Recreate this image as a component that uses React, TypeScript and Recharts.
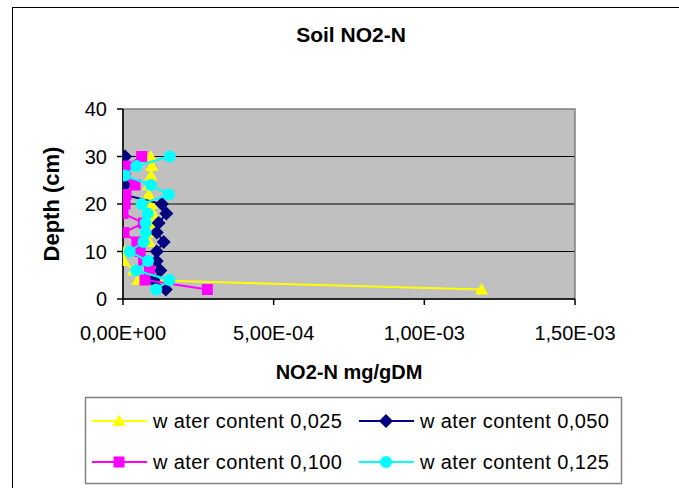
import {
  ScatterChart,
  Scatter,
  XAxis,
  YAxis,
  CartesianGrid,
  ReferenceArea,
} from 'recharts'

// depth (cm) of every sample, shared by all series
const depths = [2, 4, 6, 8, 10, 12, 14, 16, 18, 20, 22, 24, 26, 28, 30]

// NO2-N mg/gDM, one value per depth
const wc025 = [1.19e-3, 5.0e-5, 3.5e-5, 3e-6, 5e-6, 8.7e-5, 9.0e-5, 9.5e-5, 1.0e-4, 9.5e-5, 8.5e-5, 8.5e-5, 9.3e-5, 9.6e-5, 9.2e-5]
const wc050 = [1.42e-4, 1.01e-4, 1.24e-4, 1.12e-4, 1.12e-4, 1.35e-4, 1.12e-4, 1.18e-4, 1.44e-4, 1.29e-4, 0, 7e-6, 0, 0, 7e-6]
const wc100 = [2.8e-4, 7.3e-5, 8.8e-5, 6.8e-5, 5.7e-5, 4.6e-5, 3e-6, 6.8e-5, 0, 7e-6, 1e-5, 4.0e-5, 7e-6, 7e-6, 6.2e-5]
const wc125 = [1.1e-4, 1.54e-4, 4.4e-5, 8.3e-5, 2.2e-5, 6.8e-5, 7.5e-5, 7.5e-5, 8.2e-5, 6.2e-5, 1.52e-4, 9.2e-5, 5e-6, 4.5e-5, 1.55e-4]

const xTicks = [0, 5e-4, 1e-3, 1.5e-3]
const yTicks = [0, 10, 20, 30, 40]

const seriesNames = ['w ater content 0,025', 'w ater content 0,050', 'w ater content 0,100', 'w ater content 0,125']
const seriesColors = ['#FFFF00', '#000080', '#FF00FF', '#00FFFF']
const seriesMarkers = ['triangle', 'diamond', 'square', 'circle']
const seriesValues = [wc025, wc050, wc100, wc125]

const FONT = '"Liberation Sans", Arial, sans-serif'

const toPoints = (vals: number[]) => vals.map((v, i) => ({ x: v, depth: depths[i] }))

const formatSci = (v: number) => {
  if (v === 0) return '0,00E+00'
  const e = Math.floor(Math.log10(Math.abs(v)) + 1e-9)
  const m = (v / Math.pow(10, e)).toFixed(2).replace('.', ',')
  const sign = e < 0 ? '-' : '+'
  return `${m}E${sign}${String(Math.abs(e)).padStart(2, '0')}`
}

function Marker({ kind, cx, cy, color }: { kind: string; cx: number; cy: number; color: string }) {
  if (kind === 'triangle') {
    return <polygon points={`${cx},${cy - 6.5} ${cx + 6.5},${cy + 5} ${cx - 6.5},${cy + 5}`} fill={color} />
  }
  if (kind === 'diamond') {
    return <polygon points={`${cx},${cy - 7} ${cx + 7},${cy} ${cx},${cy + 7} ${cx - 7},${cy}`} fill={color} />
  }
  if (kind === 'square') {
    return <rect x={cx - 5.5} y={cy - 5.5} width={11} height={11} fill={color} />
  }
  return <circle cx={cx} cy={cy} r={6} fill={color} />
}

const makeShape = (kind: string, color: string) => (props: any) =>
  <Marker kind={kind} cx={props.cx} cy={props.cy} color={color} />

function LegendBox() {
  const cols = [92, 359]
  const rows = [421, 462]
  return (
    <svg
      width={679}
      height={488}
      style={{ position: 'absolute', left: 0, top: 0, pointerEvents: 'none' }}
    >
      <rect x={85.5} y={397.5} width={536} height={86} fill="#fff" stroke="#808080" strokeWidth={1.5} />
      {seriesNames.map((name, i) => {
        const x = cols[i % 2]
        const y = rows[Math.floor(i / 2)]
        return (
          <g key={name}>
            <line x1={x} y1={y} x2={x + 55} y2={y} stroke={seriesColors[i]} strokeWidth={2} />
            <Marker kind={seriesMarkers[i]} cx={x + 27} cy={y} color={seriesColors[i]} />
            <text
              x={x + 61}
              y={y + 7}
              fontFamily={FONT}
              fontSize={20}
              letterSpacing={0.4}
              fill="#000"
            >
              {name}
            </text>
          </g>
        )
      })}
    </svg>
  )
}

export default function App() {
  return (
    <div
      style={{
        position: 'absolute',
        left: 0,
        top: 0,
        width: 679,
        height: 488,
        background: '#fff',
        overflow: 'hidden',
        fontFamily: FONT,
      }}
    >
      {/* chart frame, runs past the right and bottom edge */}
      <div
        style={{
          position: 'absolute',
          left: 12,
          top: 7,
          width: 700,
          height: 500,
          borderLeft: '1.5px solid #000',
          borderTop: '1.5px solid #000',
        }}
      />
      <div
        style={{
          position: 'absolute',
          left: 0,
          width: 702,
          top: 23,
          textAlign: 'center',
          fontWeight: 'bold',
          fontSize: 21,
          color: '#000',
        }}
      >
        Soil NO2-N
      </div>
      <div style={{ position: 'absolute', left: 0, top: 0 }}>
        <ScatterChart
          width={679}
          height={488}
          margin={{ top: 109, right: 104, left: 43, bottom: 159 }}
        >
          <CartesianGrid
            vertical={false}
            stroke="#000"
            strokeWidth={1.2}
            fill="#C0C0C0"
            fillOpacity={1}
            horizontalValues={[10, 20, 30]}
          />
          <ReferenceArea
            x1={0}
            x2={1.5e-3}
            y1={0}
            y2={40}
            fill="none"
            stroke="#808080"
            strokeWidth={1.5}
            ifOverflow="extendDomain"
          />
          <XAxis
            type="number"
            dataKey="x"
            domain={[0, 1.5e-3]}
            ticks={xTicks}
            tickFormatter={formatSci}
            allowDataOverflow
            height={30}
            stroke="#000"
            strokeWidth={1.5}
            tickSize={6}
            tickMargin={21}
            tick={{ fill: '#000', fontSize: 20, fontFamily: FONT }}
            label={{
              value: 'NO2-N mg/gDM',
              position: 'insideBottom',
              offset: -50,
              style: { fontSize: 20, fontWeight: 'bold', fill: '#000', fontFamily: FONT },
            }}
          />
          <YAxis
            type="number"
            dataKey="depth"
            domain={[0, 40]}
            ticks={yTicks}
            width={80}
            stroke="#000"
            strokeWidth={1.5}
            tickSize={6}
            tickMargin={10}
            tick={{ fill: '#000', fontSize: 20, fontFamily: FONT }}
            label={{
              value: 'Depth (cm)',
              angle: -90,
              position: 'insideLeft',
              offset: 8,
              style: { fontSize: 22, fontWeight: 'bold', fill: '#000', fontFamily: FONT, textAnchor: 'middle' },
            }}
          />
          {seriesValues.map((vals, i) => (
            <Scatter
              key={seriesNames[i]}
              name={seriesNames[i]}
              data={toPoints(vals)}
              fill={seriesColors[i]}
              line={{ stroke: seriesColors[i], strokeWidth: 2 }}
              lineType="joint"
              shape={makeShape(seriesMarkers[i], seriesColors[i])}
              isAnimationActive={false}
            />
          ))}
        </ScatterChart>
      </div>
      <LegendBox />
    </div>
  )
}
